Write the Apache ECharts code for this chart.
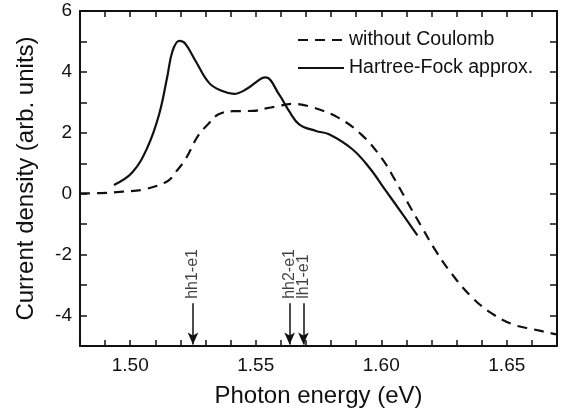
<!DOCTYPE html>
<html>
<head>
<meta charset="utf-8">
<script src="https://cdn.jsdelivr.net/npm/echarts@6/dist/echarts.min.js"></script>
<style>
  html, body { margin: 0; padding: 0; background: #fff; }
  #chart { width: 567px; height: 416px; }
</style>
</head>
<body>
<div id="chart"></div>
<script>
// photon energy (eV) / current density pairs
var withoutCoulomb = [
  [1.480, 0.01], [1.488, 0.02], [1.497, 0.07], [1.506, 0.15], [1.515, 0.42],
  [1.518, 0.70], [1.522, 1.13], [1.527, 1.90], [1.531, 2.28], [1.535, 2.60],
  [1.541, 2.71], [1.549, 2.72], [1.554, 2.80], [1.558, 2.86], [1.5645, 2.95],
  [1.5725, 2.84], [1.583, 2.49], [1.592, 1.95], [1.600, 1.19], [1.6057, 0.42],
  [1.611, -0.36], [1.6163, -1.12], [1.6216, -1.86], [1.628, -2.62], [1.636, -3.39],
  [1.644, -3.93], [1.653, -4.31], [1.660, -4.44], [1.667, -4.57], [1.670, -4.62]
];
var hartreeFock = [
  [1.4935, 0.29], [1.5008, 0.70], [1.5068, 1.51], [1.5115, 2.60], [1.5148, 3.86],
  [1.5168, 4.67], [1.5195, 5.02], [1.5218, 4.94], [1.5261, 4.35], [1.5314, 3.64],
  [1.5367, 3.37], [1.5413, 3.28], [1.546, 3.42], [1.5526, 3.80], [1.554, 3.82],
  [1.5593, 3.26], [1.5633, 2.71], [1.5673, 2.28], [1.574, 2.06], [1.5792, 1.95],
  [1.5885, 1.46], [1.5952, 0.86], [1.6018, 0.10], [1.6084, -0.66], [1.6144, -1.37]
];
var transitionNames = ['hh1-e1', 'hh2-e1', 'lh1-e1'];
var transitionEnergies = [1.525, 1.5635, 1.569];

var FONT = 'Liberation Sans, Arial, sans-serif';
var chart = echarts.init(document.getElementById('chart'));

var arrowLines = transitionEnergies.map(function (e) {
  return [{ coord: [e, -3.6] }, { coord: [e, -4.95] }];
});
var arrowLabels = transitionEnergies.map(function (e, i) {
  return { value: [e, -3.6], name: transitionNames[i] };
});

var option = {
  backgroundColor: '#fff',
  animation: false,
  textStyle: { fontFamily: FONT, color: '#111' },
  grid: { left: 80, right: 10, top: 11, bottom: 70 },
  legend: {
    orient: 'vertical',
    left: 292,
    top: 25,
    itemWidth: 46,
    itemHeight: 14,
    itemGap: 8,
    itemStyle: { opacity: 0 },
    textStyle: { fontFamily: FONT, fontSize: 19.5, color: '#111' },
    data: ['without Coulomb', 'Hartree-Fock approx.']
  },
  xAxis: [
    {
      type: 'value',
      min: 1.48,
      max: 1.67,
      interval: 0.01,
      name: 'Photon energy (eV)',
      nameLocation: 'middle',
      nameGap: 38,
      nameTextStyle: { fontFamily: FONT, fontSize: 24, color: '#111' },
      axisLine: { onZero: false, lineStyle: { color: '#111', width: 2 } },
      axisTick: { inside: true, length: 6, lineStyle: { color: '#111', width: 1.5 } },
      axisLabel: {
        fontFamily: FONT, fontSize: 19, color: '#111', margin: 10,
        formatter: function (v) {
          return Math.round(v * 100) % 5 === 0 ? v.toFixed(2) : '';
        }
      },
      splitLine: { show: false }
    },
    {
      type: 'value',
      position: 'top',
      min: 1.48,
      max: 1.67,
      interval: 0.01,
      axisLine: { onZero: false, lineStyle: { color: '#111', width: 2 } },
      axisTick: { inside: true, length: 6, lineStyle: { color: '#111', width: 1.5 } },
      axisLabel: { show: false },
      splitLine: { show: false }
    }
  ],
  yAxis: [
    {
      type: 'value',
      min: -5,
      max: 6,
      interval: 1,
      name: 'Current density (arb. units)',
      nameLocation: 'middle',
      nameGap: 42,
      nameTextStyle: { fontFamily: FONT, fontSize: 24, color: '#111' },
      axisLine: { onZero: false, lineStyle: { color: '#111', width: 2 } },
      axisTick: { inside: true, length: 7, lineStyle: { color: '#111', width: 1.5 } },
      axisLabel: {
        fontFamily: FONT, fontSize: 19, color: '#111', margin: 8,
        formatter: function (v) {
          return (v % 2 === 0 && v !== -5) ? String(v) : '';
        }
      },
      splitLine: { show: false }
    },
    {
      type: 'value',
      position: 'right',
      min: -5,
      max: 6,
      interval: 1,
      axisLine: { onZero: false, lineStyle: { color: '#111', width: 2 } },
      axisTick: { inside: true, length: 7, lineStyle: { color: '#111', width: 1.5 } },
      axisLabel: { show: false },
      splitLine: { show: false }
    }
  ],
  series: [
    {
      name: 'without Coulomb',
      type: 'line',
      data: withoutCoulomb,
      smooth: 0.4,
      symbol: 'none',
      lineStyle: { color: '#111', width: 2.2, type: [10, 7] },
      itemStyle: { color: '#111' }
    },
    {
      name: 'Hartree-Fock approx.',
      type: 'line',
      data: hartreeFock,
      smooth: 0.4,
      symbol: 'none',
      lineStyle: { color: '#111', width: 2.2 },
      itemStyle: { color: '#111' }
    },
    {
      name: 'transitions',
      type: 'scatter',
      data: arrowLabels,
      symbol: 'circle',
      symbolSize: 1,
      itemStyle: { color: 'rgba(0,0,0,0)' },
      labelLayout: { hideOverlap: false },
      label: {
        show: true,
        formatter: '{b}',
        position: 'top',
        distance: 4,
        rotate: 90,
        align: 'left',
        verticalAlign: 'middle',
        fontFamily: FONT,
        fontSize: 16,
        color: '#111'
      },
      markLine: {
        silent: true,
        symbol: ['none', 'arrow'],
        symbolSize: [8, 12],
        label: { show: false },
        lineStyle: { color: '#111', width: 1.5, type: 'solid' },
        data: arrowLines
      }
    }
  ]
};

chart.setOption(option);
</script>
</body>
</html>
